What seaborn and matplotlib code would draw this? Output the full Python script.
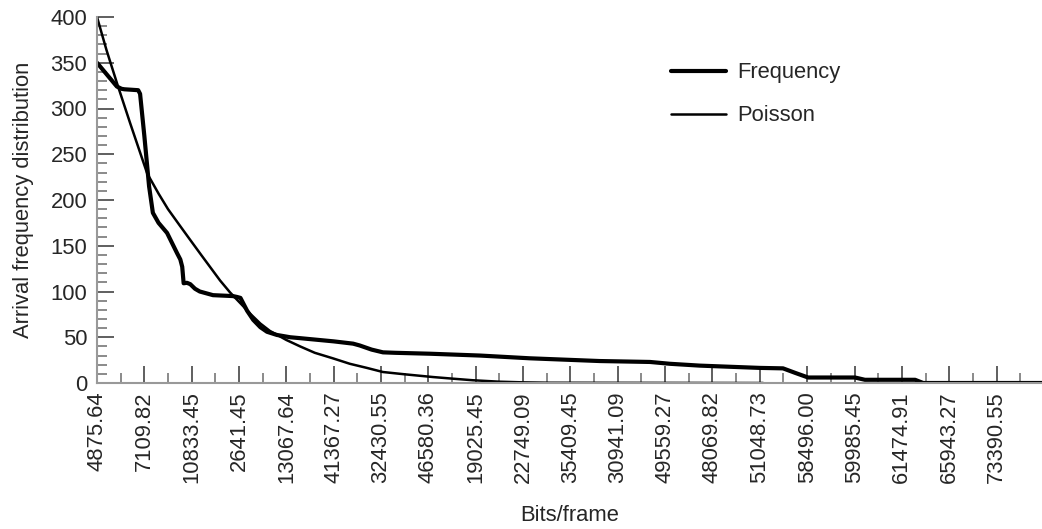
import matplotlib
matplotlib.use("Agg")
import matplotlib.pyplot as plt
import seaborn as sns
import pandas as pd
from matplotlib.ticker import MultipleLocator, FixedLocator

tick_labels = ["4875.64", "7109.82", "10833.45", "2641.45", "13067.64", "41367.27",
               "32430.55", "46580.36", "19025.45", "22749.09", "35409.45", "30941.09",
               "49559.27", "48069.82", "51048.73", "58496.00", "59985.45", "61474.91",
               "65943.27", "73390.55"]

# positions measured in tick-label units (0 = first label)
freq_x = [0, 0.21, 0.42, 0.52, 0.58, 0.87, 0.91, 1.0, 1.10, 1.18, 1.30, 1.48, 1.69, 1.76,
          1.80, 1.83, 1.90, 1.97, 2.07, 2.17, 2.45, 2.87, 2.96, 3.03, 3.08, 3.17, 3.3,
          3.45, 3.59, 3.80, 4.08, 4.29, 5.0, 5.41, 5.55, 5.80, 6.04, 6.3,
          7.03, 8.09, 9.14, 10.62, 11.68, 12.1, 12.73, 14.0, 14.49, 14.75, 15.02,
          16.01, 16.22, 17.28, 17.45, 19.96]
freq_y = [350, 337, 324, 321.5, 321, 320, 316, 270, 215, 186, 175, 164, 142, 135,
          127, 109, 109.5, 108, 103, 100, 96, 95, 94, 93, 88, 79, 69,
          61, 56, 52.5, 50, 49, 45.5, 43, 41, 36.5, 33.5, 33,
          32, 30, 27, 24, 23, 21, 19, 16.5, 16, 11, 6,
          6, 3.5, 3.5, 0, 0]

pois_x = [0, 0.2, 0.42, 0.7, 1.06, 1.3, 1.5, 1.75, 1.96, 2.2, 2.4, 2.6, 2.81, 3.05,
          3.25, 3.45, 3.65, 4.0, 4.29, 4.6, 4.98, 5.34, 5.7, 6.04, 6.5,
          7.10, 7.5, 7.94, 8.51, 9.0, 9.57, 14.07]
pois_y = [400, 364, 328, 284, 229, 207, 190, 172, 157, 140, 126, 112, 99, 86,
          75, 65, 57, 47, 40, 33, 27, 21, 16.5, 12, 9.5,
          6.5, 4.8, 3, 1.4, 0.7, 0.3, 0]

sns.set_theme(style="white")
plt.rcParams['font.family'] = ['Liberation Sans', 'DejaVu Sans']

fig = plt.figure(figsize=(10.42, 5.29), dpi=100)
ax = fig.add_axes([97/1042, 1 - 383/529, (1042-97)/1042, 366/529])

freq_df = pd.DataFrame({"x": freq_x, "y": freq_y})
pois_df = pd.DataFrame({"x": pois_x, "y": pois_y})

sns.lineplot(data=freq_df, x="x", y="y", ax=ax, color="black", linewidth=3.0,
             estimator=None, sort=False, label="Frequency")
sns.lineplot(data=pois_df, x="x", y="y", ax=ax, color="black", linewidth=1.8,
             estimator=None, sort=False, label="Poisson")
for ln in ax.get_lines():
    ln.set_solid_joinstyle("round")

ax.set_xlim(0, 19.96)
ax.set_ylim(0, 400)

ax.xaxis.set_major_locator(FixedLocator(list(range(len(tick_labels)))))
ax.set_xticklabels(tick_labels, rotation=90, fontsize=15.8)
ax.xaxis.set_minor_locator(MultipleLocator(0.5))
ax.yaxis.set_major_locator(MultipleLocator(50))
ax.yaxis.set_minor_locator(MultipleLocator(10))
ax.tick_params(axis="y", labelsize=15.8)

ax.tick_params(which="major", direction="in", length=12, width=1.2, color="#444444",
               bottom=True, left=True, top=False, right=False)
ax.tick_params(which="minor", direction="in", length=7.5, width=1.2, color="#777777",
               bottom=True, left=True, top=False, right=False)
ax.tick_params(axis="x", which="major", pad=6)
ax.tick_params(axis="y", which="major", pad=7)

for s in ["top", "right"]:
    ax.spines[s].set_visible(False)
for s in ["left", "bottom"]:
    ax.spines[s].set_color("#999999")
    ax.spines[s].set_linewidth(1.5)

ax.set_xlabel("Bits/frame", fontsize=15.8, labelpad=16)
ax.set_ylabel("Arrival frequency distribution", fontsize=15.8, labelpad=12)

leg = ax.legend(loc="upper left", bbox_to_anchor=(0.587, 0.93), frameon=False,
                fontsize=15.8, handlelength=2.5, handletextpad=0.5, labelspacing=1.0)

fig.savefig("out.png", dpi=100)
